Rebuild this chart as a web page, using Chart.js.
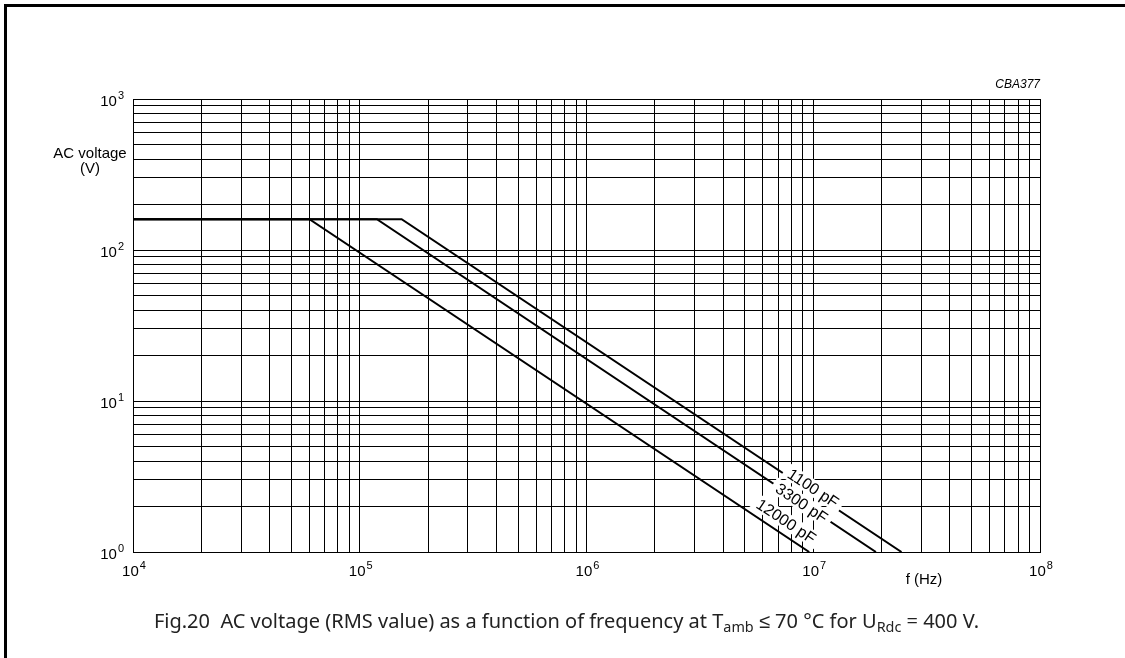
<!DOCTYPE html>
<html>
<head>
<meta charset="utf-8">
<script src="https://cdn.jsdelivr.net/npm/chart.js@4.4.1/dist/chart.umd.min.js"></script>
<style>
html, body { margin: 0; padding: 0; background: #fff; }
#wrap { position: relative; width: 1125px; height: 658px; overflow: hidden; }
#frame { position: absolute; left: 4px; top: 4px; width: 1140px; height: 680px; border-top: 3px solid #000; border-left: 3px solid #000; }
canvas { position: absolute; left: 0; top: 0; }
#caption { position: absolute; left: 4px; width: 1125px; top: 607px; text-align: center;
  font-family: "Noto Sans", sans-serif; font-size: 20px; color: #222; white-space: nowrap; }
#caption sub { font-size: 72%; vertical-align: -4px; line-height: 0; }
</style>
</head>
<body>
<div id="wrap">
  <div id="frame"></div>
  <canvas id="chart" width="1125" height="658"></canvas>
  <div id="caption">Fig.20&nbsp;&nbsp;AC voltage (RMS value) as a function of frequency at T<sub>amb</sub> ≤ 70 °C for U<sub>Rdc</sub> = 400 V.</div>
</div>
<script>
// curves (f in Hz, V rms)
const freq1100 = [1e4, 1.53e5, 2.45e7];
const volt1100 = [160, 160, 1];
const freq3300 = [1e4, 1.19e5, 1.89e7];
const volt3300 = [160, 160, 1];
const freq12000 = [1e4, 6.0e4, 9.6e6];
const volt12000 = [160, 160, 1];

const curveNames = ['1100 pF', '3300 pF', '12000 pF'];
const labelFreq = [1.0e7, 8.9e6, 7.6e6];
const labelVolt = [2.65, 2.11, 1.6];

const xDecades = [1e4, 1e5, 1e6, 1e7, 1e8];
const xDecadeLabels = ['4', '5', '6', '7', '8'];
const yDecades = [1, 10, 100, 1000];
const yDecadeLabels = ['0', '1', '2', '3'];
const gridSteps = [1, 2, 3, 4, 5, 6, 7, 8, 9];

function gridValues(decades){
    let vals = [];
    for (let i = 0; i < decades.length - 1; i++){
        gridSteps.forEach(s => vals.push(decades[i] * s));
    }
    vals.push(decades[decades.length - 1]);
    return vals;
}

function toPoints(xs, ys){
    return xs.map((x, i) => ({x: x, y: ys[i]}));
}

const baseFont = '15px "Liberation Sans", Arial, sans-serif';
const supFont = '11px "Liberation Sans", Arial, sans-serif';
const curveFont = '16px "Liberation Sans", Arial, sans-serif';

function drawPower(ctx, x, y, exp, align){
    ctx.font = baseFont;
    let bw = ctx.measureText('10').width;
    ctx.font = supFont;
    let ew = ctx.measureText(exp).width;
    let total = bw + 1 + ew;
    let left = align === 'right' ? x - total : x - total / 2;
    ctx.textAlign = 'left';
    ctx.textBaseline = 'middle';
    ctx.font = baseFont;
    ctx.fillText('10', left, y);
    ctx.font = supFont;
    ctx.fillText(exp, left + bw + 1, y - 6);
}

const decorations = {
    id: 'decorations',
    afterDatasetsDraw(chart){
        let ctx = chart.ctx;
        let xs = chart.scales.x, ys = chart.scales.y;
        let meta = chart.getDatasetMeta(0);
        let p1 = meta.data[1], p2 = meta.data[2];
        let ang = Math.atan2(p2.y - p1.y, p2.x - p1.x);
        ctx.save();
        ctx.font = curveFont;
        curveNames.forEach((name, i) => {
            let px = xs.getPixelForValue(labelFreq[i]);
            let py = ys.getPixelForValue(labelVolt[i]);
            let w = ctx.measureText(name).width;
            ctx.save();
            ctx.translate(px, py);
            ctx.rotate(ang);
            ctx.fillStyle = '#fff';
            ctx.fillRect(-w / 2 - 5, -8, w + 10, 16);
            ctx.fillStyle = '#000';
            ctx.textAlign = 'center';
            ctx.textBaseline = 'middle';
            ctx.fillText(name, 0, 1);
            ctx.restore();
        });
        ctx.restore();
    },
    afterDraw(chart){
        let ctx = chart.ctx;
        let area = chart.chartArea;
        let xs = chart.scales.x, ys = chart.scales.y;
        ctx.save();
        ctx.fillStyle = '#000';
        yDecades.forEach((v, i) => {
            drawPower(ctx, area.left - 9, ys.getPixelForValue(v) + 3, yDecadeLabels[i], 'right');
        });
        xDecades.forEach((v, i) => {
            drawPower(ctx, xs.getPixelForValue(v) + 1, area.bottom + 20, xDecadeLabels[i], 'center');
        });
        ctx.font = baseFont;
        ctx.textAlign = 'center';
        ctx.textBaseline = 'middle';
        ctx.fillText('AC voltage', area.left - 43, area.top + 55);
        ctx.fillText('(V)', area.left - 43, area.top + 70);
        ctx.fillText('f (Hz)', area.right - 116, area.bottom + 28);
        ctx.font = 'italic 12px "Liberation Sans", Arial, sans-serif';
        ctx.textAlign = 'right';
        ctx.fillText('CBA377', area.right, area.top - 14);
        ctx.restore();
    }
};

function curve(xs, ys){
    return {
        data: toPoints(xs, ys),
        borderColor: '#000',
        borderWidth: 2,
        pointRadius: 0,
        tension: 0,
        fill: false
    };
}

new Chart(document.getElementById('chart').getContext('2d'), {
    type: 'line',
    data: {
        datasets: [
            curve(freq1100, volt1100),
            curve(freq3300, volt3300),
            curve(freq12000, volt12000)
        ]
    },
    options: {
        responsive: false,
        animation: false,
        devicePixelRatio: 1,
        layout: { padding: { top: 99, right: 85, left: 0, bottom: 0 } },
        plugins: { legend: { display: false }, tooltip: { enabled: false } },
        scales: {
            x: {
                type: 'logarithmic',
                min: 1e4,
                max: 1e8,
                afterBuildTicks: s => { s.ticks = gridValues(xDecades).map(v => ({value: v})); },
                afterFit: s => { s.height = 106; },
                ticks: { display: false },
                grid: { color: '#000', lineWidth: 1, drawTicks: false },
                border: { display: true, color: '#000', width: 1 }
            },
            y: {
                type: 'logarithmic',
                min: 1,
                max: 1000,
                afterBuildTicks: s => { s.ticks = gridValues(yDecades).map(v => ({value: v})); },
                afterFit: s => { s.width = 133; },
                ticks: { display: false },
                grid: { color: '#000', lineWidth: 1, drawTicks: false },
                border: { display: true, color: '#000', width: 1 }
            }
        }
    },
    plugins: [decorations]
});
</script>
</body>
</html>
